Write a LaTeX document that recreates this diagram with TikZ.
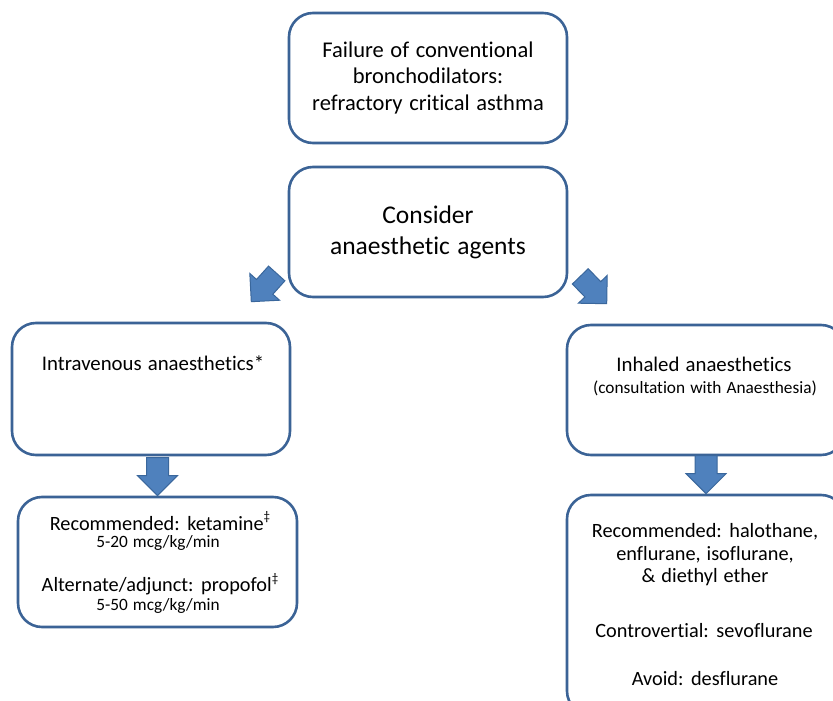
\documentclass[tikz,border=0pt]{standalone}
\usepackage{fontspec}
\setmainfont[Ligatures={NoCommon},WordSpace=1.3]{Carlito}
\usetikzlibrary{calc}
\definecolor{boxline}{HTML}{3B6396}
\definecolor{arrfill}{HTML}{4F81BD}
\definecolor{arrline}{HTML}{3A679C}
\begin{document}
\begin{tikzpicture}[x=1pt,y=1pt,
 box/.style={draw=boxline, line width=2.6pt, rounded corners=24pt, fill=white, minimum width=278pt, minimum height=130pt, inner sep=0pt, align=center, text=black},
 txt/.style={align=center, inner sep=0pt, text=black},
 barrow/.pic={\filldraw[fill=arrfill, draw=arrline, line width=1pt, line join=miter] (0,0) -- (-20,20) -- (-20,11) -- (-38,11) -- (-38,-11) -- (-20,-11) -- (-20,-20) -- cycle;}]
\useasboundingbox (0,0) rectangle (833,-701);
\clip (0,0) rectangle (833,-701);
\fill[white] (0,0) rectangle (833,-701);

\node[box, font=\fontsize{22.5}{26.5}\selectfont] (top) at (428,-78) {Failure of conventional\\ bronchodilators:\\ refractory critical asthma};
\node[box, font=\fontsize{25.5}{31}\selectfont] (consider) at (428,-232) {Consider\\ anaesthetic agents};
\node[box, minimum height=132pt] (iv) at (151,-389) {};
\node[txt, font=\fontsize{20.8}{24}\selectfont] (ivt) at (153,-363) {Intravenous anaesthetics*};
\node[box] (inh) at (706,-390) {};
\node[txt, font=\fontsize{20.8}{24}\selectfont] (inht) at (704,-364) {Inhaled anaesthetics};
\node[txt, font=\fontsize{17.3}{20}\selectfont] (inhs) at (705,-388) {(consultation with Anaesthesia)};
\node[box, minimum width=279pt] (ivdrug) at (157.5,-562) {};
\node[txt, font=\fontsize{20.3}{22}\selectfont] (k1) at (160,-521) {Recommended: ketamine\raisebox{0.45em}{\fontsize{13}{13}\selectfont ‡}};
\node[txt, font=\fontsize{17.3}{20}\selectfont] (k2) at (158,-543) {5-20 mcg/kg/min};
\node[txt, font=\fontsize{20.3}{22}\selectfont] (p1) at (160,-584) {Alternate/adjunct: propofol\raisebox{0.45em}{\fontsize{13}{13}\selectfont ‡}};
\node[txt, font=\fontsize{17.3}{20}\selectfont] (p2) at (158,-606) {5-50 mcg/kg/min};
\node[box, minimum height=220pt] (inhdrug) at (706,-605) {};
\node[txt, font=\fontsize{20.3}{22.5}\selectfont] (h1) at (705,-555) {Recommended: halothane,\\ enflurane, isoflurane,\\ \& diethyl ether};
\node[txt, font=\fontsize{20.3}{22}\selectfont] (h2) at (704,-631) {Controvertial: sevoflurane};
\node[txt, font=\fontsize{20.3}{22}\selectfont] (h3) at (705,-679) {Avoid: desflurane};

\pic[rotate=-132] at ($(iv.north east)+(-40,20)$) {barrow};
\pic[rotate=-46] at ($(inh.north west)+(41,20)$) {barrow};
\pic[rotate=-90] at (ivdrug.north) {barrow};
\pic[rotate=-90] at (inhdrug.north) {barrow};
\end{tikzpicture}
\end{document}
